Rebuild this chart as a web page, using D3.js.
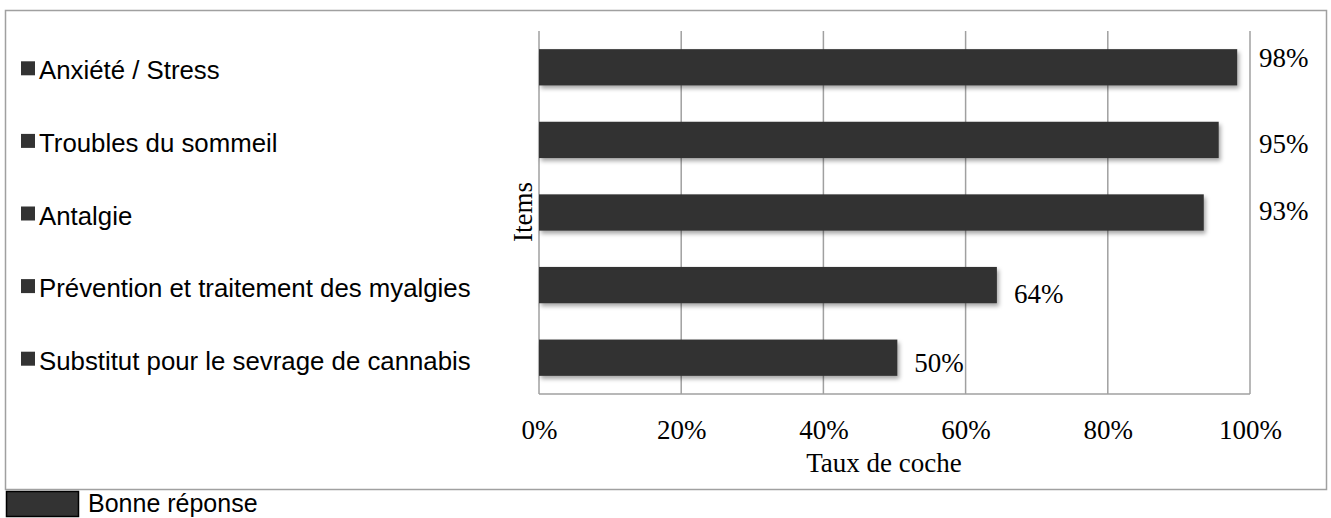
<!DOCTYPE html>
<html>
<head>
<meta charset="utf-8">
<script src="https://cdn.jsdelivr.net/npm/d3@7/dist/d3.min.js"></script>
<style>
  html, body { margin: 0; padding: 0; background: #fff; }
  svg { display: block; }
</style>
</head>
<body>
<svg id="chart" width="1331" height="518"></svg>
<script>
// ---- data ----
const categories = [
  "Anxiété / Stress",
  "Troubles du sommeil",
  "Antalgie",
  "Prévention et traitement des myalgies",
  "Substitut pour le sevrage de cannabis"
];
const values = [0.982, 0.956, 0.935, 0.644, 0.504];
const valueLabels = ["98%", "95%", "93%", "64%", "50%"];
const tickValues = [0, 0.2, 0.4, 0.6, 0.8, 1.0];
const seriesName = "Bonne réponse";
const xTitle = "Taux de coche";
const yTitle = "Items";

// ---- layout ----
const labelDy = [0, 13, 7, 18, 14];
const barColor = "#333333";
const gridColor = "#a0a0a0";
const serif = "'Liberation Serif', 'DejaVu Serif', serif";
const sans = "'Liberation Sans', Arial, sans-serif";

const svg = d3.select("#chart");

const defs = svg.append("defs");
const f = defs.append("filter").attr("id", "shadow")
  .attr("x", "-5%").attr("y", "-30%").attr("width", "115%").attr("height", "180%");
f.append("feDropShadow").attr("dx", 2).attr("dy", 3).attr("stdDeviation", 2)
  .attr("flood-color", "#000").attr("flood-opacity", 0.35);

// outer border
svg.append("rect")
  .attr("x", 5.5).attr("y", 10.5).attr("width", 1321).attr("height", 479)
  .attr("fill", "#fff").attr("stroke", gridColor).attr("stroke-width", 1.5);

const x = d3.scaleLinear().domain([0, 1]).range([539, 1250]);
const y = d3.scaleBand().domain(categories).range([31, 394]).paddingInner(0.5).paddingOuter(0.25);

// gridlines
svg.append("g").selectAll("line").data(tickValues).join("line")
  .attr("x1", d => x(d)).attr("x2", d => x(d))
  .attr("y1", 31).attr("y2", 394)
  .attr("stroke", gridColor).attr("stroke-width", 1.5);
// bottom axis line
svg.append("line")
  .attr("x1", x(0)).attr("x2", x(1)).attr("y1", 394).attr("y2", 394)
  .attr("stroke", gridColor).attr("stroke-width", 1.5);

// x axis tick labels
const xAxis = d3.axisBottom(x).tickValues(tickValues).tickFormat(d3.format(".0%")).tickSize(0).tickPadding(0);
const gx = svg.append("g").attr("transform", "translate(0,439)").call(xAxis);
gx.select(".domain").remove();
gx.selectAll("text")
  .attr("y", 0).attr("dy", 0)
  .attr("font-family", serif).attr("font-size", 27).attr("fill", "#000");

// bars
svg.append("g").selectAll("rect").data(categories).join("rect")
  .attr("x", x(0))
  .attr("y", d => y(d))
  .attr("width", (d, i) => x(values[i]) - x(0))
  .attr("height", y.bandwidth())
  .attr("fill", barColor)
  .attr("filter", "url(#shadow)");

// value labels
svg.append("g").selectAll("text").data(categories).join("text")
  .attr("x", (d, i) => values[i] > 0.9 ? x(1) + 9 : x(values[i]) + 17)
  .attr("y", (d, i) => y(d) + y.bandwidth() / 2 + labelDy[i])
  .attr("font-family", serif).attr("font-size", 27).attr("fill", "#000")
  .text((d, i) => valueLabels[i]);

// left category legend (squares + text)
const leg = svg.append("g").selectAll("g").data(categories).join("g")
  .attr("transform", d => `translate(0,${y(d) + y.bandwidth() / 2})`);
leg.append("rect")
  .attr("x", 21).attr("y", -6).attr("width", 14).attr("height", 14)
  .attr("fill", barColor);
leg.append("text")
  .attr("x", 39).attr("y", 12)
  .attr("font-family", sans).attr("font-size", 25.8).attr("fill", "#000")
  .text(d => d);

// axis titles
svg.append("text")
  .attr("x", 884).attr("y", 472)
  .attr("text-anchor", "middle")
  .attr("font-family", serif).attr("font-size", 27).attr("fill", "#000")
  .text(xTitle);
svg.append("text")
  .attr("transform", "translate(532,212) rotate(-90)")
  .attr("text-anchor", "middle")
  .attr("font-family", serif).attr("font-size", 27).attr("fill", "#000")
  .text(yTitle);

// bottom series legend
svg.append("rect")
  .attr("x", 6.5).attr("y", 491.5).attr("width", 72).attr("height", 25)
  .attr("fill", barColor).attr("stroke", "#000").attr("stroke-width", 1.5);
svg.append("text")
  .attr("x", 88).attr("y", 512)
  .attr("font-family", sans).attr("font-size", 25).attr("fill", "#000")
  .text(seriesName);
</script>
</body>
</html>
